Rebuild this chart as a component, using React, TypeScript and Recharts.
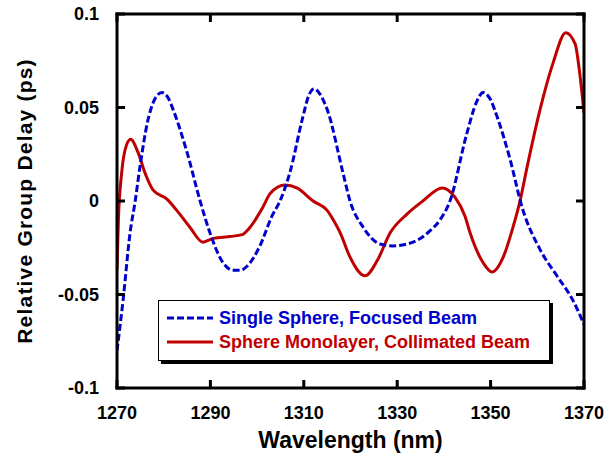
import { LineChart, Line, XAxis, YAxis } from 'recharts';

const FONT = '"Liberation Sans", Arial, Helvetica, sans-serif';
const BLUE = '#0000cc';
const RED = '#c00000';

const wavelengthTicks = [1270, 1290, 1310, 1330, 1350, 1370];
const delayTicks = [-0.1, -0.05, 0, 0.05, 0.1];

// Single sphere, focused beam
const focusedWavelength = [
  1270.0, 1271.3, 1272.8, 1273.9, 1274.9, 1276.6, 1278.0, 1279.6, 1281.0, 1282.0,
  1285.0, 1287.8, 1289.9, 1292.7, 1294.8, 1296.5, 1297.8, 1300.6, 1303.2, 1304.9,
  1307.0, 1309.8, 1311.0, 1312.2, 1313.5, 1315.0, 1318.4, 1319.9, 1322.7, 1326.3,
  1329.1, 1333.4, 1337.0, 1339.2, 1341.3, 1344.9, 1347.0, 1348.4, 1349.8, 1351.4,
  1354.2, 1356.7, 1360.6, 1364.2, 1367.6, 1370.0,
];
const focusedDelay = [
  -0.08, -0.053, -0.017, 0.0, 0.018, 0.043, 0.054, 0.058, 0.055, 0.049,
  0.026, 0.0, -0.017, -0.033, -0.037, -0.037, -0.035, -0.024, -0.008, 0.0,
  0.015, 0.045, 0.056, 0.06, 0.057, 0.049, 0.015, 0.0, -0.014, -0.023,
  -0.024, -0.022, -0.016, -0.01, 0.0, 0.036, 0.053, 0.058, 0.055, 0.045,
  0.022, -0.003, -0.026, -0.04, -0.053, -0.066,
];

// Sphere monolayer, collimated beam
const collimatedWavelength = [
  1270.0, 1270.3, 1271.0, 1271.7, 1272.9, 1274.5, 1276.0, 1277.7, 1280.7, 1282.8,
  1285.6, 1288.4, 1290.6, 1294.2, 1296.8, 1298.5, 1301.3, 1302.8, 1306.0, 1308.5,
  1312.0, 1315.0, 1316.3, 1317.8, 1319.9, 1323.1, 1325.7, 1328.5, 1332.1, 1335.5,
  1339.6, 1342.4, 1344.5, 1345.6, 1348.4, 1350.3, 1352.7, 1354.8, 1356.3, 1357.8,
  1360.6, 1363.4, 1366.1, 1368.1, 1369.1, 1370.0,
];
const collimatedDelay = [
  -0.037, -0.01, 0.015, 0.027, 0.033, 0.026, 0.015, 0.006, 0.001, -0.005,
  -0.014, -0.022, -0.02, -0.019, -0.018, -0.014, -0.003, 0.004, 0.0085, 0.007,
  0.0, -0.005, -0.01, -0.017, -0.03, -0.04, -0.032, -0.017, -0.007, 0.0,
  0.007, 0.002, -0.008, -0.017, -0.033, -0.038, -0.03, -0.014, 0.0, 0.018,
  0.049, 0.074, 0.09, 0.084, 0.068, 0.047,
];

// merge both series onto one wavelength table; gaps are bridged with connectNulls
type Row = { wl: number; focused?: number; collimated?: number };
const rowMap = new Map<number, Row>();
focusedWavelength.forEach((wl, i) => {
  const row = rowMap.get(wl) ?? { wl };
  row.focused = focusedDelay[i];
  rowMap.set(wl, row);
});
collimatedWavelength.forEach((wl, i) => {
  const row = rowMap.get(wl) ?? { wl };
  row.collimated = collimatedDelay[i];
  rowMap.set(wl, row);
});
const chartData = [...rowMap.values()].sort((a, b) => a.wl - b.wl);

const legendRows = [
  { name: 'Single Sphere, Focused Beam', color: BLUE, dash: '7 3' },
  { name: 'Sphere Monolayer, Collimated Beam', color: RED, dash: undefined },
];

const axisLine = { stroke: '#000', strokeWidth: 3, strokeLinecap: 'square' as const };
const tickLine = { stroke: '#000', strokeWidth: 3 };
const tickText = { fill: '#000', fontSize: 18, fontWeight: 'bold', fontFamily: FONT };

function DelayTitle({ viewBox }: any) {
  const cx = 24.5;
  const cy = viewBox.y + viewBox.height / 2;
  return (
    <text
      x={cx}
      y={cy}
      dy="0.355em"
      textAnchor="middle"
      transform={`rotate(-90, ${cx}, ${cy})`}
      fill="#000"
      fontSize={21}
      fontWeight="bold"
      fontFamily={FONT}
      letterSpacing={1.2}
    >
      Relative Group Delay (ps)
    </text>
  );
}

function LegendBox() {
  return (
    <div
      style={{
        position: 'absolute',
        left: 158,
        top: 300,
        width: 392,
        height: 61,
        boxSizing: 'border-box',
        border: '1px solid #000',
        boxShadow: '3px 3px 0 #000',
        background: '#fff',
        padding: '5px 0 0 8px',
      }}
    >
      {legendRows.map((row) => (
        <div key={row.name} style={{ display: 'flex', alignItems: 'center', height: 24 }}>
          <svg width={46} height={6} style={{ display: 'block' }}>
            <line x1={0} y1={3} x2={46} y2={3} stroke={row.color} strokeWidth={3} strokeDasharray={row.dash} />
          </svg>
          <span
            style={{
              marginLeft: 6,
              color: row.color,
              fontSize: 18,
              fontWeight: 'bold',
              fontFamily: FONT,
              whiteSpace: 'nowrap',
            }}
          >
            {row.name}
          </span>
        </div>
      ))}
    </div>
  );
}

export default function App() {
  return (
    <div style={{ position: 'absolute', left: 0, top: 0, width: 608, height: 455 }}>
      <LineChart
        width={608}
        height={455}
        data={chartData}
        margin={{ top: 13, right: 23, bottom: 0, left: 0 }}
      >
        {/* negative tick sizes turn every tick mark inwards */}
        <XAxis
          xAxisId="main"
          type="number"
          dataKey="wl"
          domain={[1270, 1370]}
          ticks={wavelengthTicks}
          allowDataOverflow
          height={67}
          axisLine={axisLine}
          tickLine={tickLine}
          tickSize={-8}
          tickMargin={26}
          tick={tickText}
          label={{
            value: 'Wavelength (nm)',
            position: 'insideBottom',
            offset: 7,
            style: { fill: '#000', fontSize: 23, fontWeight: 'bold', fontFamily: FONT },
          }}
        />
        <XAxis
          xAxisId="top"
          orientation="top"
          type="number"
          dataKey="wl"
          domain={[1270, 1370]}
          ticks={wavelengthTicks}
          allowDataOverflow
          height={1}
          axisLine={axisLine}
          tickLine={tickLine}
          tickSize={-8}
          tickFormatter={() => ''}
        />
        <YAxis
          yAxisId="main"
          type="number"
          domain={[-0.1, 0.1]}
          ticks={delayTicks}
          allowDataOverflow
          width={117}
          axisLine={axisLine}
          tickLine={tickLine}
          tickSize={-8}
          tickMargin={26}
          tick={tickText}
          tickFormatter={(v: number) => String(v)}
          label={<DelayTitle />}
        />
        <YAxis
          yAxisId="right"
          orientation="right"
          type="number"
          domain={[-0.1, 0.1]}
          ticks={delayTicks}
          allowDataOverflow
          width={1}
          axisLine={axisLine}
          tickLine={tickLine}
          tickSize={-8}
          tickFormatter={() => ''}
        />
        <Line
          xAxisId="main"
          yAxisId="main"
          dataKey="collimated"
          name="Sphere Monolayer, Collimated Beam"
          type="monotone"
          stroke={RED}
          strokeWidth={3}
          dot={false}
          activeDot={false}
          connectNulls
          isAnimationActive={false}
        />
        <Line
          xAxisId="main"
          yAxisId="main"
          dataKey="focused"
          name="Single Sphere, Focused Beam"
          type="monotone"
          stroke={BLUE}
          strokeWidth={3}
          strokeDasharray="7 3"
          dot={false}
          activeDot={false}
          connectNulls
          isAnimationActive={false}
        />
      </LineChart>
      <LegendBox />
    </div>
  );
}
